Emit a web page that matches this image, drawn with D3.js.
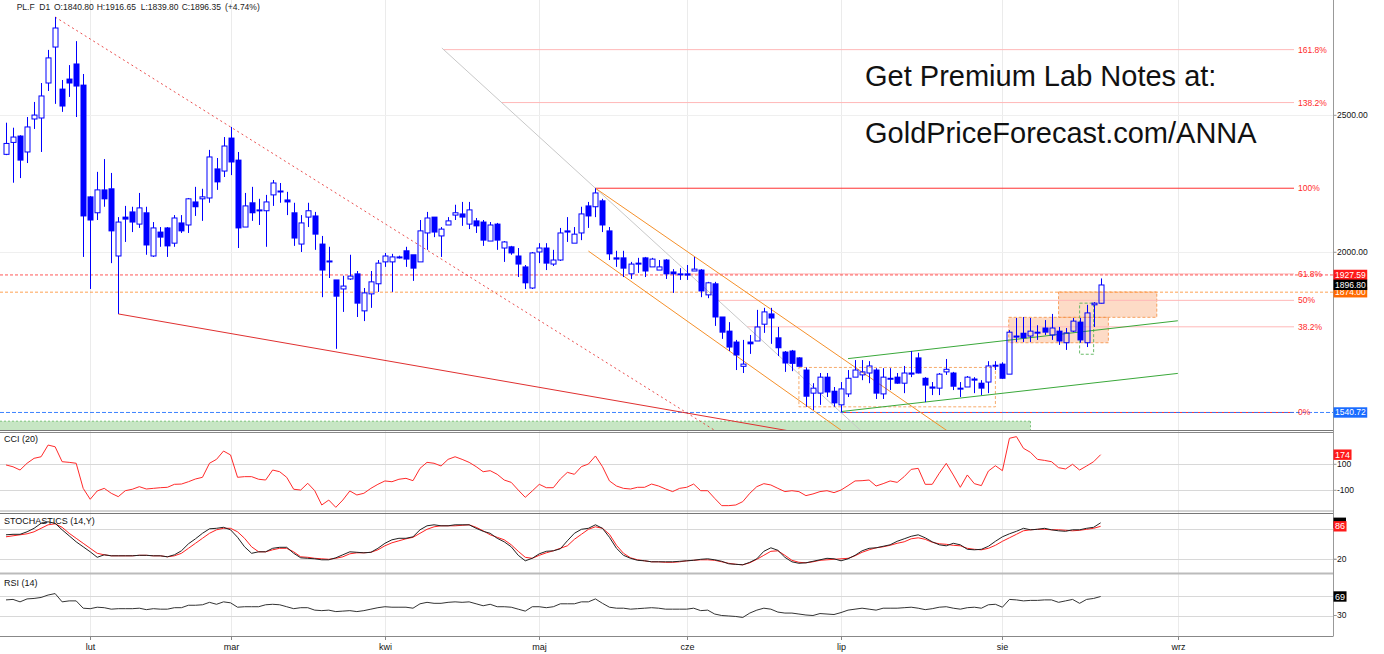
<!DOCTYPE html>
<html><head><meta charset="utf-8">
<script src="https://cdn.jsdelivr.net/npm/d3@7"></script>
<style>body{margin:0;background:#fff;} svg{display:block;font-family:"Liberation Sans",Arial,Helvetica,sans-serif;}</style>
</head><body><svg id="c" width="1384" height="654"></svg>
<script>
// ---------------- DATA ----------------
const open=[2346,2392,2417,2355,2485,2489,2635,2794,2609,2652,2718,2626,2189,2133,2214,2218,1988,2118,2136,2094,
2133,1988,2067,2081,2030,2098,2091,2171,2182,2185,2291,2283,2409,2324,2084,2168,2143,2140,2196,2210,
2178,2133,2027,2118,2122,2027,1972,1912,1884,1915,1931,1818,1869,1900,1969,1969,1985,2005,1992,1969,
2064,2118,2054,2091,2125,2129,2094,2105,2101,2037,2094,2014,2018,1988,1953,1887,2001,2014,1962,1975,
2071,2030,2064,2157,2154,2175,2071,1982,1982,1931,1965,1982,1953,1943,1975,1937,1931,1931,1940,1943,
1866,1900,1800,1759,1728,1661,1728,1731,1779,1809,1740,1700,1703,1684,1651,1590,1590,1632,1595,1560,
1588,1632,1638,1643,1651,1588,1627,1632,1616,1643,1684,1629,1606,1603,1646,1643,1601,1606,1627,1616,
1619,1664,1667,1640,1745,1753,1745,1754,1768,1748,1759,1726,1759,1785,1726,1836,1840.8];
const high=[2470,2450,2420,2493,2555,2635,2781,2934,2648,2713,2821,2674,2192,2280,2328,2276,2118,2157,2154,2203,
2154,2101,2084,2084,2125,2125,2185,2225,2218,2363,2332,2413,2453,2355,2203,2225,2182,2196,2250,2239,
2207,2168,2125,2168,2136,2054,2018,1912,1925,1992,1940,1887,1940,1975,1998,1995,1989,2018,1992,2108,
2136,2118,2084,2118,2161,2171,2171,2115,2108,2101,2098,2037,2021,2014,1959,2001,2030,2030,2008,2081,
2118,2084,2154,2171,2220,2182,2084,2005,2005,1969,1982,1985,1982,1975,1978,1946,1949,1959,1985,1946,
1906,1906,1800,1785,1734,1734,1748,1821,1827,1827,1771,1703,1706,1686,1658,1616,1643,1643,1606,1619,
1651,1678,1678,1675,1656,1656,1656,1643,1662,1703,1698,1632,1619,1643,1681,1646,1619,1635,1632,1624,
1675,1675,1672,1762,1797,1800,1797,1776,1791,1809,1771,1768,1797,1797,1836,1844,1916.65];
const low=[2343,2240,2257,2313,2445,2355,2601,2547,2514,2576,2493,1985,1884,2108,2154,1965,1809,2034,2067,2081,
1992,1985,2018,1985,2018,2064,2064,2122,2105,2168,2214,2261,2268,2014,2084,2105,2091,2018,2157,2168,
2125,2021,2001,2084,2008,1859,1918,1709,1815,1912,1800,1788,1827,1875,1953,1875,1980,1953,1909,1969,
2008,2050,1985,2091,2108,2088,2077,2064,2021,2037,2008,1969,1992,1921,1884,1884,1965,1943,1956,1972,
2034,2030,2040,2081,2118,2067,1975,1953,1921,1915,1934,1921,1953,1943,1915,1872,1912,1912,1940,1859,
1856,1774,1737,1703,1651,1643,1695,1731,1754,1723,1689,1646,1648,1660,1555,1547,1560,1580,1555,1540.72,
1580,1632,1624,1616,1575,1575,1598,1614,1590,1632,1642,1567,1585,1585,1638,1598,1580,1606,1590,1585,
1590,1651,1627,1640,1728,1728,1728,1734,1748,1734,1720,1706,1756,1726,1714,1771,1839.8];
const close=[2388,2413,2324,2453,2501,2580,2745,2882,2538,2635,2622,2122,2108,2214,2182,2071,2101,2111,2101,2150,
2024,2081,2050,2021,2115,2071,2182,2154,2189,2336,2243,2378,2317,2081,2157,2133,2140,2171,2239,2207,
2171,2047,2098,2140,2060,1943,1969,1862,1893,1924,1841,1872,1906,1965,1988,1985,1983,1978,1949,2071,
2115,2067,2077,2105,2133,2118,2143,2088,2040,2091,2040,2034,1998,1962,1903,1998,2014,1965,1975,2064,
2067,2060,2129,2122,2203,2091,1995,1978,1949,1962,1962,1940,1978,1953,1931,1931,1928,1927,1946,1878,
1903,1800,1756,1714,1692,1667,1723,1771,1815,1797,1712,1670,1669,1661,1582,1603,1632,1593,1565,1601,
1629,1651,1646,1662,1590,1632,1629,1616,1643,1640,1643,1611,1603,1640,1653,1608,1603,1632,1624,1603,
1662,1662,1629,1756,1742,1740,1759,1756,1756,1768,1731,1754,1788,1734,1812,1841,1896.35];

const cci=[95,81,56,108,146,158,248,235,120,115,108,-85,-169,-105,-85,-123,-149,-103,-92,-72,
-90,-85,-80,-77,-54,-52,-34,-13,0,108,138,202,172,0,5,5,-15,-21,56,43,
0,-92,-98,-46,-103,-213,-175,-231,-175,-105,-136,-123,-85,-54,-28,-34,-15,-8,-26,69,
115,108,87,138,158,138,115,82,43,51,23,-21,-39,-98,-154,-105,-54,-80,-80,-13,
38,23,82,102,164,82,-28,-67,-85,-90,-77,-77,-52,-67,-90,-110,-85,-77,-52,-103,
-103,-162,-218,-218,-213,-187,-123,-72,-49,-59,-85,-110,-103,-110,-141,-128,-110,-103,-118,-98,
-64,-28,-26,-21,-67,-49,-28,-39,5,61,69,-54,-54,31,107,18,-77,18,-49,-64,
48,89,51,300,313,223,192,138,130,120,74,64,100,56,87,120,174];
const stochK=[69,70,70,75,82,92,95,92,79,67,55,45,35,24,29,27,27,27,27,28,
28,27,27,25,29,37,51,61,72,81,82,84,79,64,45,32,35,35,42,44,
44,32,23,22,21,19,19,23,29,35,34,33,34,42,52,59,62,62,65,79,
87,89,87,87,89,89,89,82,76,72,62,55,45,28,17,22,31,36,37,41,
57,72,80,82,89,82,64,42,28,22,18,17,15,15,15,15,16,17,18,20,
21,19,16,11,10,9,14,21,36,43,38,24,15,12,13,16,19,22,21,17,
21,28,37,42,43,46,49,56,61,66,69,63,55,49,47,52,49,40,39,40,
46,56,65,71,76,82,79,80,82,79,77,76,79,79,82,84,93];
const stochD=[65,67,69,71,75,82,89,91,84,72,62,52,42,32,29,27,27,27,27,28,
28,27,27,25,27,32,42,52,62,72,79,82,82,75,62,45,35,35,39,42,
42,35,25,24,22,21,20,22,25,31,33,33,34,39,47,53,57,61,64,72,
80,85,87,87,87,88,89,84,77,69,64,59,49,36,24,22,28,33,37,42,
47,60,70,80,85,82,70,48,32,23,19,17,15,15,14,14,15,17,18,19,
19,18,15,12,10,9,13,20,28,36,37,28,18,14,13,15,18,19,20,21,
22,27,34,39,43,45,48,52,55,61,63,60,54,51,50,48,47,42,40,39,
42,48,56,63,70,77,79,80,80,79,79,78,77,78,80,82,86];
const rsi=[62,63,58,64,65,67,72,75,58,60,60,45,44,47,46,43,44,44,44,45,
42,44,43,43,46,46,51,51,52,57,53,58,56,47,48,48,48,52,53,52,
48,44,46,46,41,40,41,38,39,40,38,40,43,46,48,47,47,47,45,54,
57,55,55,57,58,57,58,54,50,53,48,48,47,43,39,48,48,46,48,54,
54,54,58,58,64,55,47,45,45,43,44,45,46,45,43,43,43,43,45,40,
41,33,30,29,28,26,35,41,45,43,37,35,35,33,31,30,34,33,32,36,
41,43,45,43,41,45,45,45,46,47,45,42,44,47,48,45,43,46,47,45,
52,53,47,63,62,60,61,61,62,62,57,60,63,55,63,65,69];

const monthTickIndex=[12,32,54,76,97,119,142,167];
const monthLabels=["lut","mar","kwi","maj","cze","lip","sie","wrz"];
const priceTicks=[2000,2500];
const headerTokens=["PL.F","D1","O:1840.80","H:1916.65","L:1839.80","C:1896.35","(+4.74%)"];
const fibLowPoint=[119,1540.72], fibHighPoint=[84,2220];
const fibRatios=[0,0.382,0.5,0.618,1,1.382,1.618];
const fibLabels=["0%","38.2%","50%","61.8%","100%","138.2%","161.8%"];
const levelRed=1927.59, levelOrange=1874.00, levelBlue=1540.72, lastPrice=1896.80;
const trendRedDashed=[[7,2934],[32,2453]];
const trendRedSolid=[[16,1809],[111,1497]];
const channelOrangeUpper=[[84,2220],[134,1497]];
const channelOrangeLower=[[83,2004],[119,1497]];
const channelGreenUpper=[[120,1682],[167,1789]];
const channelGreenLower=[[119,1543],[167,1642]];
const rangeBox=[113,141,1555,1658];      // i0,i1,pLow,pHigh
const zoneBoxLow=[142.9,157.1,1726,1799];
const zoneBoxHigh=[150,164,1799,1875];
const greenBox=[153,155,1694,1841];
const supportZone=[-1,146,1400,1519];
const cciTicks=[100,-100], stochTicks=[80,20], rsiTicks=[70,30];
const stochTickLabels=[20], rsiTickLabels=[30]; // 80 / 70 sit under the value boxes
const cciLast=174, stochKLast=93, stochDLast=86, rsiLast=69;

// ---------------- LAYOUT ----------------
const svg=d3.select("#c");
const R=1333.5;
const main={t:0,b:430}, pc={t:432.5,b:511}, ps={t:513.5,b:573}, pr={t:575,b:636};
const x=d3.scaleLinear().domain([0,156]).range([6,1100.65]);
const y=d3.scaleLog().domain([2000,2500]).range([252.3,115.3]);
const yc=d3.scaleLinear().domain([-100,100]).range([490.3,464.3]);
const ys=d3.scaleLinear().domain([20,80]).range([559.3,529.3]);
const yr=d3.scaleLinear().domain([30,70]).range([615.5,596]);

const defs=svg.append("defs");
function clip(id,p){defs.append("clipPath").attr("id",id).append("rect").attr("x",0).attr("y",p.t).attr("width",R).attr("height",p.b-p.t);}
clip("cm",main);clip("cc",pc);clip("cs",ps);clip("cr",pr);

// vertical month grid
svg.append("g").selectAll("line").data(monthTickIndex).join("line")
 .attr("x1",d=>Math.round(x(d))+0.5).attr("x2",d=>Math.round(x(d))+0.5)
 .attr("y1",0).attr("y2",pr.b).attr("stroke","#ebebeb");

const gm=svg.append("g").attr("clip-path","url(#cm)");
gm.selectAll("line.hg").data(priceTicks).join("line").attr("class","hg")
 .attr("x1",0).attr("x2",R).attr("y1",d=>Math.round(y(d))+0.5).attr("y2",d=>Math.round(y(d))+0.5).attr("stroke","#efefef");

// support zone
gm.append("rect").attr("x",0).attr("width",x(supportZone[1])).attr("y",y(supportZone[3]))
 .attr("height",y(supportZone[2])-y(supportZone[3])).attr("fill","#c7e6c4");
gm.append("line").attr("x1",0).attr("x2",x(supportZone[1])).attr("y1",y(supportZone[3])).attr("y2",y(supportZone[3]))
 .attr("stroke","#7cc27a").attr("stroke-dasharray","2,2");
gm.append("line").attr("x1",x(supportZone[1])).attr("x2",x(supportZone[1])).attr("y1",y(supportZone[3])).attr("y2",main.b)
 .attr("stroke","#7cc27a").attr("stroke-dasharray","2,2");

function box(b,fill,stroke){
 gm.append("rect").attr("x",x(b[0])).attr("width",x(b[1])-x(b[0])).attr("y",y(b[3])).attr("height",y(b[2])-y(b[3]))
  .attr("fill",fill).attr("stroke",stroke).attr("stroke-dasharray","3,2");
}
box(zoneBoxLow,"rgba(250,170,120,0.42)","rgba(245,140,60,0.8)");
box(zoneBoxHigh,"rgba(250,170,120,0.42)","rgba(245,140,60,0.8)");
box(rangeBox,"none","rgba(245,150,70,0.8)");
box(greenBox,"none","rgba(90,180,90,0.9)");

// fib
const fhx=x(fibHighPoint[0]), fhy=y(fibHighPoint[1]), flx=x(fibLowPoint[0]), fly=y(fibLowPoint[1]);
const lnL=Math.log(fibLowPoint[1]), lnH=Math.log(fibHighPoint[1]);
const fibG=svg.append("g");
fibRatios.forEach((r,k)=>{
 const p=Math.exp(lnL+r*(lnH-lnL)); const yy=y(p);
 const xs=fhx+(yy-fhy)*(flx-fhx)/(fly-fhy);
 const strong=(r===1||r===0);
 gm.append("line").attr("x1",xs).attr("x2",1294).attr("y1",yy).attr("y2",yy)
  .attr("stroke",strong?"#ff3030":"#ffb8b8").attr("stroke-width",1);
 fibG.append("text").attr("x",1298).attr("y",yy).attr("dy","0.35em").attr("font-size",8.5)
  .attr("fill","#ff2a2a").text(fibLabels[k]);
});
function hline(v,col,dash,w,op){gm.append("line").attr("x1",0).attr("x2",R).attr("y1",y(v)).attr("y2",y(v))
 .attr("stroke",col).attr("stroke-dasharray",dash).attr("stroke-width",w).attr("opacity",op);}
hline(levelRed,"#ff2020","3,2",1,0.75);
hline(levelOrange,"#ff9030","3,2",1.6,0.55);
hline(levelBlue,"#2a78ff","4,2",1,0.9);

// trend lines
function extLine(pts,yEnd,yStart){
 const x1=x(pts[0][0]),y1=y(pts[0][1]),x2=x(pts[1][0]),y2=y(pts[1][1]);
 const s=(x2-x1)/(y2-y1);
 const ys0=(yStart===undefined)?y1:yStart;
 return [x1+(ys0-y1)*s,ys0,x1+(yEnd-y1)*s,yEnd];
}
function seg(c,col,w,dash,op){gm.append("line").attr("x1",c[0]).attr("y1",c[1]).attr("x2",c[2]).attr("y2",c[3])
 .attr("stroke",col).attr("stroke-width",w).attr("stroke-dasharray",dash||null).attr("opacity",op||1);}
seg(extLine([fibHighPoint,fibLowPoint],440,48),"#c8c8c8",1);
seg(extLine(trendRedDashed,440),"#e83030",1,"2,3",0.85);
seg(extLine(trendRedSolid,440),"#e03030",1);
seg(extLine(channelOrangeUpper,440),"#f5902a",1);
seg(extLine(channelOrangeLower,440),"#f5902a",1);
const gl=(p)=>[x(p[0][0]),y(p[0][1]),x(p[1][0]),y(p[1][1])];
seg(gl(channelGreenUpper),"#3aa83a",1);
seg(gl(channelGreenLower),"#3aa83a",1);

// candles
const BLUE="#0000ff";
const cg=gm.append("g");
open.forEach((o,i)=>{
 const c=close[i], cx=Math.round(x(i))+0.5;
 const top=y(Math.max(o,c)), bot=y(Math.min(o,c));
 cg.append("line").attr("x1",cx).attr("x2",cx).attr("y1",y(high[i])).attr("y2",top).attr("stroke",BLUE);
 cg.append("line").attr("x1",cx).attr("x2",cx).attr("y1",bot).attr("y2",y(low[i])).attr("stroke",BLUE);
 const h=Math.max(1,bot-top);
 if(c>=o){
  cg.append("rect").attr("x",cx-2.5).attr("y",top).attr("width",5).attr("height",h)
   .attr("fill","none").attr("stroke",BLUE).attr("stroke-width",1);
 } else {
  cg.append("rect").attr("x",cx-3).attr("y",top-0.5).attr("width",6).attr("height",h+1).attr("fill",BLUE);
 }
});

// indicator grids
function pgrid(ticks,sc){svg.append("g").selectAll("line").data(ticks).join("line")
 .attr("x1",0).attr("x2",R).attr("y1",d=>Math.round(sc(d))+0.5).attr("y2",d=>Math.round(sc(d))+0.5).attr("stroke","#d8d8d8");}
pgrid(cciTicks,yc);pgrid(stochTicks,ys);pgrid(rsiTicks,yr);

function lineOf(arr,sc,col,clipId){
 svg.append("path").attr("clip-path",`url(#${clipId})`).datum(arr)
  .attr("d",d3.line().x((d,i)=>x(i)).y(d=>sc(d))).attr("fill","none").attr("stroke",col).attr("stroke-width",1);
}
lineOf(cci,yc,"#ff2a2a","cc");
lineOf(stochD,ys,"#ff2020","cs");
lineOf(stochK,ys,"#222","cs");
lineOf(rsi,yr,"#333","cr");

// separators
function hl(yy,col,w){svg.append("line").attr("x1",0).attr("x2",R).attr("y1",yy).attr("y2",yy).attr("stroke",col).attr("stroke-width",w||1);}
hl(430.5,"#777");hl(432.5,"#888");
hl(511,"#aaa");hl(513.5,"#777");
hl(573.5,"#bbb",2);
hl(636.5,"#888");
svg.append("line").attr("x1",R).attr("x2",R).attr("y1",0).attr("y2",pr.b).attr("stroke","#999");

// panel titles
const titles=[["CCI (20)",442],["STOCHASTICS (14,Y)",524],["RSI (14)",586]];
titles.forEach(t=>svg.append("text").attr("x",4).attr("y",t[1]).attr("font-size",9).attr("fill","#111").text(t[0]));

// right axis labels
function axTick(yy){svg.append("line").attr("x1",R).attr("x2",R+3).attr("y1",yy).attr("y2",yy).attr("stroke","#999");}
function axLab(v,yy){
 axTick(yy);
 svg.append("text").attr("x",1337).attr("y",yy).attr("dy","0.35em").attr("font-size",8.5).attr("fill","#111").text(v);
}
priceTicks.forEach(p=>axLab(d3.format(".2f")(p),y(p)));
cciTicks.forEach(v=>axLab(v,yc(v)));
stochTicks.forEach(v=>axTick(ys(v)));
stochTickLabels.forEach(v=>axLab(v,ys(v)));
rsiTicks.forEach(v=>axTick(yr(v)));
rsiTickLabels.forEach(v=>axLab(v,yr(v)));

// value boxes
function vbox(yy,txt,bg,fs,showText){
 const g=svg.append("g");
 if(showText===false){
  g.append("rect").attr("x",R).attr("y",yy-5.2).attr("width",12.5).attr("height",10.4).attr("fill",bg);
  return;
 }
 const t=g.append("text").attr("x",R+1.5).attr("y",yy).attr("dy","0.35em").attr("font-size",fs||8.5).attr("fill","#fff").text(txt);
 const w=t.node().getComputedTextLength();
 g.insert("rect","text").attr("x",R).attr("y",yy-5.2).attr("width",w+3).attr("height",10.4).attr("fill",bg);
}
vbox(y(levelOrange),d3.format(".2f")(levelOrange),"#ff6a00");
vbox(y(levelRed),d3.format(".2f")(levelRed),"#ff1a1a");
vbox(y(lastPrice),d3.format(".2f")(lastPrice),"#000");
vbox(y(levelBlue),d3.format(".2f")(levelBlue),"#1a6cff");
vbox(yc(cciLast),cciLast,"#ff1a1a",9);
vbox(ys(stochKLast),stochKLast,"#000",9,false);   // hidden behind the %D box, as in the source
vbox(ys(stochDLast),stochDLast,"#ff1a1a",9);
vbox(yr(rsiLast),rsiLast,"#000",9);

// x axis
const xg=svg.append("g");
monthTickIndex.forEach((d,k)=>{
 const xx=Math.round(x(d))+0.5;
 xg.append("line").attr("x1",xx).attr("x2",xx).attr("y1",pr.b).attr("y2",pr.b+4).attr("stroke","#888");
 xg.append("text").attr("x",xx).attr("y",650).attr("text-anchor","middle").attr("font-size",9).attr("fill","#111").text(monthLabels[k]);
});

// header
const hx=[16.7,39.3,54,96.7,140.7,181.7,225];
const ht=svg.append("text").attr("y",10).attr("font-size",8.5).attr("fill","#222");
headerTokens.forEach((t,k)=>ht.append("tspan").attr("x",hx[k]).text(t));

// promo
svg.append("text").attr("x",865).attr("y",85.5).attr("font-size",29).attr("fill","#111").text("Get Premium Lab Notes at:");
svg.append("text").attr("x",865).attr("y",143.3).attr("font-size",29).attr("fill","#111").text("GoldPriceForecast.com/ANNA");
</script></body></html>
